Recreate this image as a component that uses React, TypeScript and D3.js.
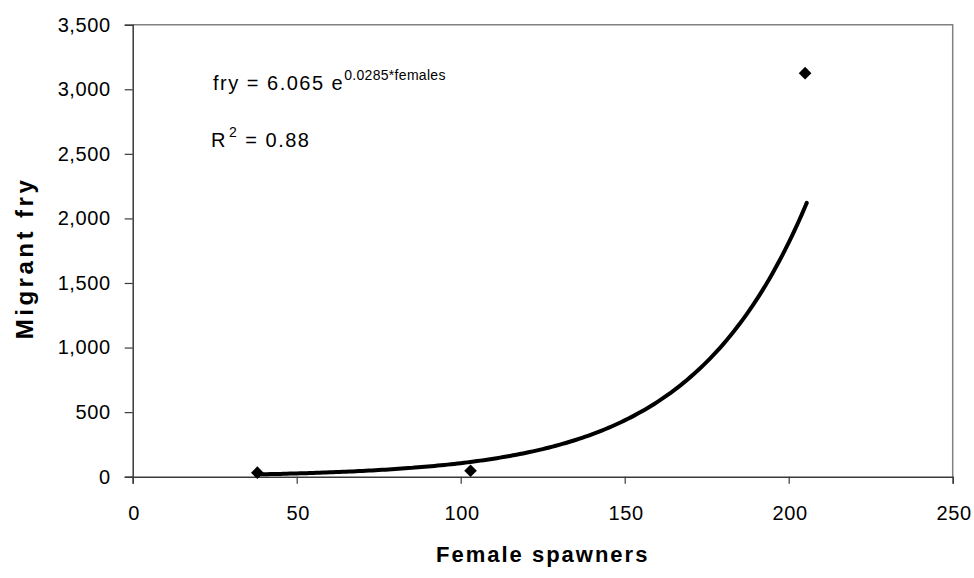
import React, { useEffect, useRef } from 'react';
import * as d3 from 'd3';

// observed points (female spawners, migrant fry)
const females = [38, 103, 205];
const fry = [31, 46, 3125];

// exponential fit shown on the chart
const fitA = 6.065;
const fitB = 0.0285;
const fitFrom = 38;
const fitTo = 205.5;

const xTicks = [0, 50, 100, 150, 200, 250];
const yTicks = [0, 500, 1000, 1500, 2000, 2500, 3000, 3500];

const W = 974;
const H = 578;
const margin = { left: 132.7, right: 21.3, top: 24.7, bottom: 101.3 };

function App() {
  const svgRef = useRef<SVGSVGElement>(null);

  useEffect(() => {
    const svg = d3.select(svgRef.current);
    svg.selectAll('*').remove();

    const x = d3
      .scaleLinear()
      .domain([0, 250])
      .range([margin.left, W - margin.right]);
    const y = d3
      .scaleLinear()
      .domain([0, 3500])
      .range([H - margin.bottom, margin.top]);

    const font = '"Liberation Sans", Arial, sans-serif';
    const axisColor = '#3a3a3a';

    // frame top/right
    svg
      .append('path')
      .attr('d', `M${x(0)},${y(3500)}H${x(250)}V${y(0)}`)
      .attr('fill', 'none')
      .attr('stroke', '#808080')
      .attr('stroke-width', 1.5);

    // y axis
    const yAxis = svg
      .append('g')
      .attr('transform', `translate(${x(0)},0)`)
      .call(
        d3
          .axisLeft(y)
          .tickValues(yTicks)
          .tickSize(8)
          .tickPadding(14)
          .tickFormat(d3.format(','))
      );
    // x axis
    const xAxis = svg
      .append('g')
      .attr('transform', `translate(0,${y(0)})`)
      .call(
        d3
          .axisBottom(x)
          .tickValues(xTicks)
          .tickSize(7)
          .tickPadding(22)
          .tickFormat(d3.format('d'))
      );

    [xAxis, yAxis].forEach(g => {
      g.select('.domain').attr('stroke', axisColor).attr('stroke-width', 1.5);
      g.selectAll('.tick line').attr('stroke', axisColor).attr('stroke-width', 1.2);
      g.selectAll('.tick text')
        .attr('fill', '#000')
        .attr('font-family', font)
        .attr('font-size', 20)
        .attr('letter-spacing', 0.6);
    });
    xAxis.selectAll('.tick text').attr('dx', 1);

    // trend line
    const fitX = d3.range(fitFrom, Math.floor(fitTo) + 1, 1).concat([fitTo]);
    const line = d3
      .line<number>()
      .x(d => x(d))
      .y(d => y(fitA * Math.exp(fitB * d)));
    svg
      .append('path')
      .datum(fitX)
      .attr('d', line)
      .attr('fill', 'none')
      .attr('stroke', '#000')
      .attr('stroke-width', 4)
      .attr('stroke-linejoin', 'round')
      .attr('stroke-linecap', 'round');

    // points
    svg
      .selectAll('path.pt')
      .data(females)
      .join('path')
      .attr('class', 'pt')
      .attr('d', d3.symbol(d3.symbolSquare, 80) as any)
      .attr('transform', (d, i) => `translate(${x(d)},${y(fry[i])}) rotate(45)`)
      .attr('fill', '#000');

    // equation
    const eq = svg
      .append('text')
      .attr('x', 213)
      .attr('y', 90)
      .attr('font-family', font)
      .attr('font-size', 20)
      .attr('fill', '#000');
    eq.append('tspan').text('fry = 6.065 e').attr('letter-spacing', 1.5);
    eq.append('tspan')
      .text('0.0285*females')
      .attr('font-size', 14)
      .attr('letter-spacing', 0.3)
      .attr('dy', -10);

    const r2 = svg
      .append('text')
      .attr('x', 211)
      .attr('y', 147)
      .attr('font-family', font)
      .attr('font-size', 20)
      .attr('letter-spacing', 1.5)
      .attr('fill', '#000');
    r2.append('tspan').text('R');
    r2.append('tspan').text('2').attr('font-size', 14).attr('dy', -10).attr('dx', 2);
    r2.append('tspan').text(' = 0.88').attr('dy', 10);

    // axis titles
    svg
      .append('text')
      .attr('x', (x(0) + x(250)) / 2)
      .attr('y', 562)
      .attr('text-anchor', 'middle')
      .attr('font-family', font)
      .attr('font-weight', 'bold')
      .attr('font-size', 22)
      .attr('letter-spacing', 2)
      .attr('fill', '#000')
      .text('Female spawners');

    svg
      .append('text')
      .attr('transform', `translate(33,258) rotate(-90)`)
      .attr('text-anchor', 'middle')
      .attr('font-family', font)
      .attr('font-weight', 'bold')
      .attr('font-size', 24)
      .attr('letter-spacing', 3.5)
      .attr('fill', '#000')
      .text('Migrant fry');
  }, []);

  return (
    <svg
      ref={svgRef}
      width={W}
      height={H}
      style={{ position: 'absolute', left: 0, top: 0, background: '#fff' }}
    ></svg>
  );
}

export default App;
